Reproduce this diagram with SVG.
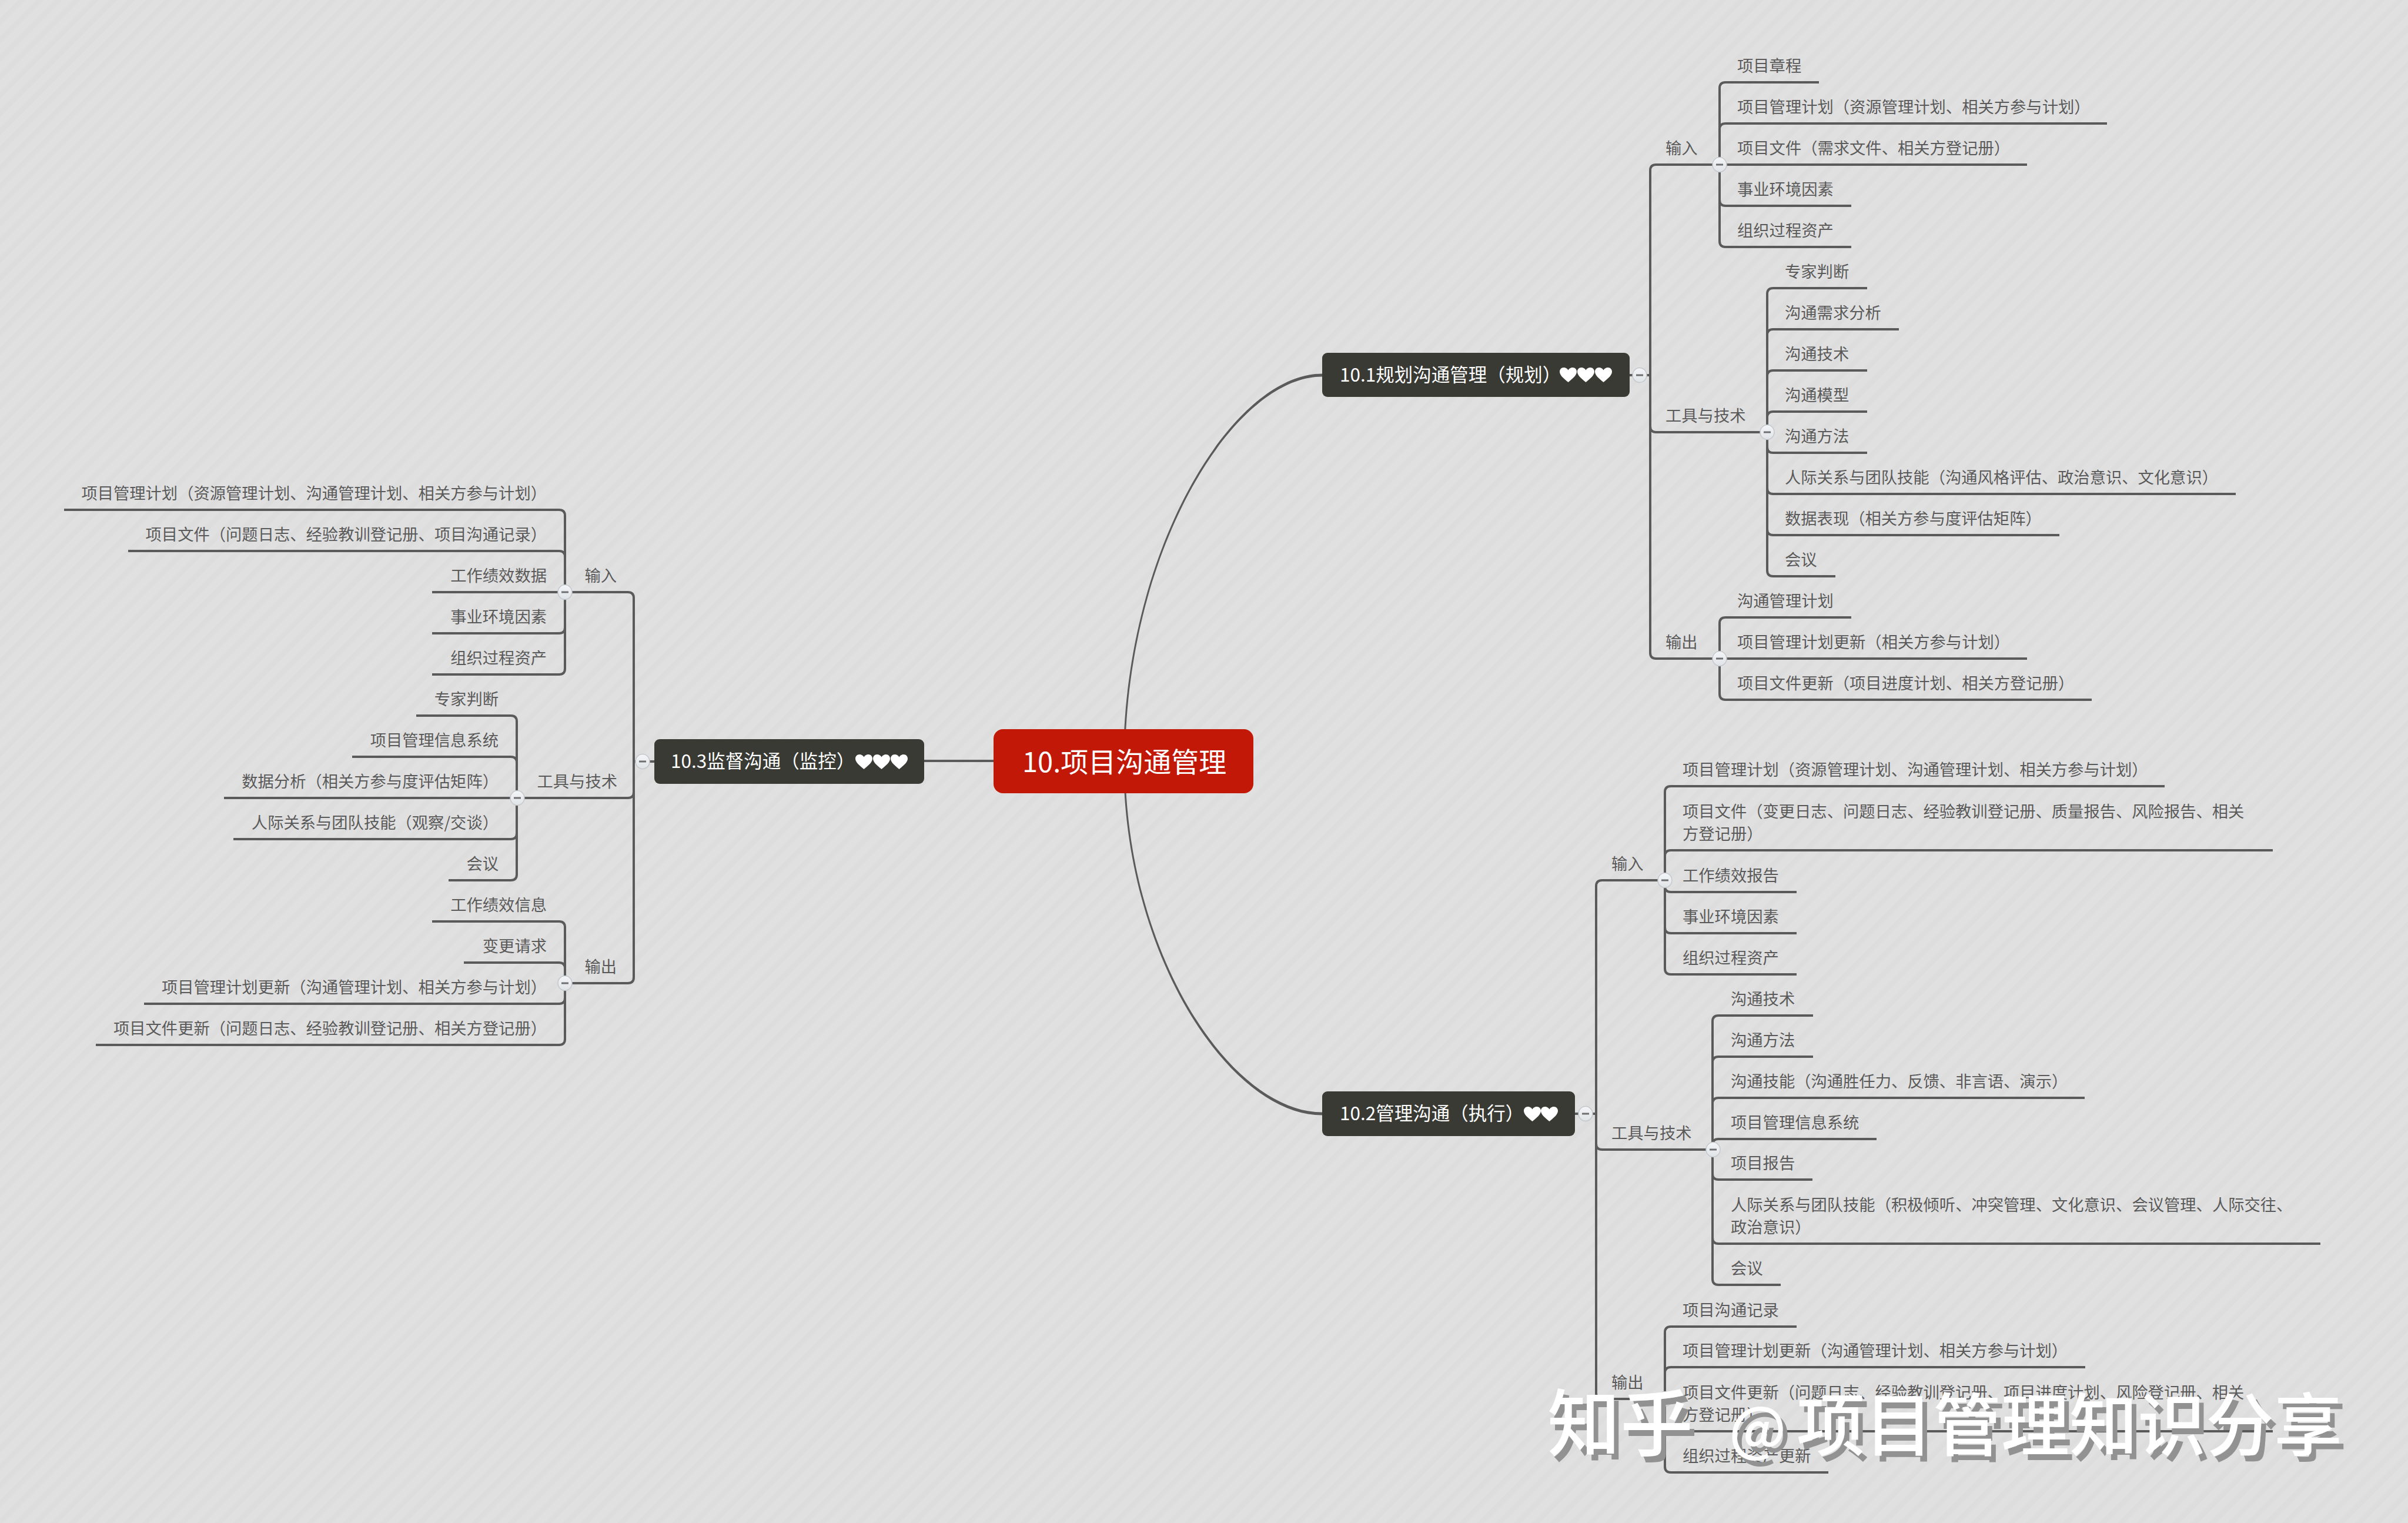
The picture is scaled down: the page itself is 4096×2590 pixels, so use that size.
<svg xmlns="http://www.w3.org/2000/svg" width="4096" height="2590" viewBox="0 0 4096 2590">
<style>
text{font-family:"Noto Sans CJK SC","Liberation Sans",sans-serif}
.t{font-size:27.300px;fill:#5a5a5a;font-weight:400}
.e{text-anchor:end}
.h{font-size:31.500px;fill:#fff}
.c{font-size:47px;fill:#fff}
.box{fill:#3a3a34}
.l{fill:none;stroke:#5a5a5a;stroke-width:4}
.wm{font-size:116px;fill:#fff;font-weight:500;filter:url(#sh)}
</style>
<defs>
<pattern id="bg" width="22" height="22" patternUnits="userSpaceOnUse" patternTransform="rotate(-45)">
<rect width="22" height="22" fill="#e0e0e0"/><rect width="22" height="9" fill="#dddddd"/>
</pattern>
<filter id="sh" x="-5%" y="-5%" width="110%" height="120%"><feDropShadow dx="8" dy="10" stdDeviation="0" flood-color="#929292"/></filter>
<linearGradient id="cg" x1="0" y1="0" x2="0" y2="1"><stop offset="0" stop-color="#f4f6f8"/><stop offset="1" stop-color="#dfe3e7"/></linearGradient>
<path id="heart" d="M14.5 25C6 18 0 13 0 7C0 2.800 3.200 0 7 0C10 0 13 1.500 14.500 4.500C16 1.500 19 0 22 0C25.800 0 29 2.800 29 7C29 13 23 18 14.500 25Z" fill="#fff"/>
<g id="col"><ellipse cx="0" cy="0" rx="12" ry="12.500" fill="url(#cg)" stroke="#c4c8cc" stroke-width="1.500"/><rect x="-6" y="-1.500" width="12" height="3" fill="#6f6f6f"/></g>
</defs>
<rect width="4096" height="2590" fill="url(#bg)"/>

<g id="connectors">
<path d="M1911 1295C1911 940 2095 635.500 2249 635.500L2249 640.500C2097 640.500 1914 940 1914 1295Z" fill="#5a5a5a"/>
<path d="M1911 1295C1911 1620 2090 1896.500 2249 1896.500L2249 1891.500C2093 1891.500 1914 1620 1914 1295Z" fill="#5a5a5a"/>
<path class="l" d="M1572 1294H1690"/>
<!-- 10.1 -->
<path class="l" d="M2772 638H2807"/>
<path class="l" d="M2925 280H2817Q2807 280 2807 290V1110Q2807 1120 2817 1120H2925"/>
<path class="l" d="M2807 725Q2807 735 2817 735H3006"/>
<path class="l" d="M3094 140H2935Q2925 140 2925 150V410Q2925 420 2935 420H3149"/>
<path class="l" d="M3584 210H2935Q2925 210 2925 220"/>
<path class="l" d="M2925 280H3448"/>
<path class="l" d="M2925 340Q2925 350 2935 350H3149"/>
<path class="l" d="M3176 490H3016Q3006 490 3006 500V970Q3006 980 3016 980H3122"/>
<path class="l" d="M3230 560H3016Q3006 560 3006 570"/>
<path class="l" d="M3176 630H3016Q3006 630 3006 640"/>
<path class="l" d="M3176 700H3016Q3006 700 3006 710"/>
<path class="l" d="M3006 760Q3006 770 3016 770H3176"/>
<path class="l" d="M3006 830Q3006 840 3016 840H3803"/>
<path class="l" d="M3006 900Q3006 910 3016 910H3503"/>
<path class="l" d="M3149 1050H2935Q2925 1050 2925 1060V1180Q2925 1190 2935 1190H3558"/>
<path class="l" d="M2925 1120H3448"/>
<!-- 10.2 -->
<path class="l" d="M2679 1894H2715"/>
<path class="l" d="M2832 1497H2725Q2715 1497 2715 1507V2369Q2715 2379 2725 2379H2832"/>
<path class="l" d="M2715 1945Q2715 1955 2725 1955H2913"/>
<path class="l" d="M3682 1337H2842Q2832 1337 2832 1347V1647Q2832 1657 2842 1657H3056"/>
<path class="l" d="M3866 1446H2842Q2832 1446 2832 1456"/>
<path class="l" d="M2832 1507Q2832 1517 2842 1517H3056"/>
<path class="l" d="M2832 1577Q2832 1587 2842 1587H3056"/>
<path class="l" d="M3084 1727H2923Q2913 1727 2913 1737V2175Q2913 2185 2923 2185H3029"/>
<path class="l" d="M3084 1797H2923Q2913 1797 2913 1807"/>
<path class="l" d="M3546 1867H2923Q2913 1867 2913 1877"/>
<path class="l" d="M3192 1937H2923Q2913 1937 2913 1947"/>
<path class="l" d="M2913 1996Q2913 2006 2923 2006H3083"/>
<path class="l" d="M2913 2105Q2913 2115 2923 2115H3947"/>
<path class="l" d="M3056 2256H2842Q2832 2256 2832 2266V2494Q2832 2504 2842 2504H3110"/>
<path class="l" d="M3547 2325H2842Q2832 2325 2832 2335"/>
<path class="l" d="M2832 2424Q2832 2434 2842 2434H3866"/>
<!-- 10.3 -->
<path class="l" d="M1113 1295H1078"/>
<path class="l" d="M961 1007H1068Q1078 1007 1078 1017V1662Q1078 1672 1068 1672H961"/>
<path class="l" d="M1078 1347Q1078 1357 1068 1357H879"/>
<path class="l" d="M109 867H951Q961 867 961 877V1137Q961 1147 951 1147H735"/>
<path class="l" d="M218 937H951Q961 937 961 947"/>
<path class="l" d="M735 1007H961"/>
<path class="l" d="M961 1067Q961 1077 951 1077H735"/>
<path class="l" d="M708 1217H869Q879 1217 879 1227V1487Q879 1497 869 1497H763"/>
<path class="l" d="M599 1287H869Q879 1287 879 1297"/>
<path class="l" d="M381 1357H879"/>
<path class="l" d="M879 1417Q879 1427 869 1427H397"/>
<path class="l" d="M735 1567H951Q961 1567 961 1577V1767Q961 1777 951 1777H163"/>
<path class="l" d="M789 1637H951Q961 1637 961 1647"/>
<path class="l" d="M961 1697Q961 1707 951 1707H245"/>
</g>

<g id="central"><rect x="1690" y="1240" width="442" height="109" rx="16" fill="#c21807"/><text class="c" x="1739" y="1313">10.项目沟通管理</text></g>

<g id="n101"><rect class="box" x="2249" y="600" width="523" height="75" rx="9"/><text class="h" x="2279" y="649">10.1规划沟通管理（规划）</text><use href="#heart" x="2653" y="625"/><use href="#heart" x="2683" y="625"/><use href="#heart" x="2713" y="625"/><use href="#col" x="2789" y="638"/></g>
<g id="n102"><rect class="box" x="2249" y="1856" width="430" height="76" rx="9"/><text class="h" x="2279" y="1905">10.2管理沟通（执行）</text><use href="#heart" x="2592" y="1882"/><use href="#heart" x="2621" y="1882"/><use href="#col" x="2697" y="1894"/></g>
<g id="n103"><rect class="box" x="1113" y="1257" width="459" height="76" rx="9"/><text class="h" x="1141" y="1306">10.3监督沟通（监控）</text><use href="#heart" x="1455" y="1283"/><use href="#heart" x="1485" y="1283"/><use href="#heart" x="1515" y="1283"/><use href="#col" x="1093" y="1295"/></g>

<g id="n101-in"><text class="t" x="2833" y="262">输入</text><use href="#col" x="2925" y="280"/></g>
<g id="n101-in-1"><text class="t" x="2955" y="122">项目章程</text></g>
<g id="n101-in-2"><text class="t" x="2955" y="192">项目管理计划（资源管理计划、相关方参与计划）</text></g>
<g id="n101-in-3"><text class="t" x="2955" y="262">项目文件（需求文件、相关方登记册）</text></g>
<g id="n101-in-4"><text class="t" x="2955" y="332">事业环境因素</text></g>
<g id="n101-in-5"><text class="t" x="2955" y="402">组织过程资产</text></g>
<g id="n101-tt"><text class="t" x="2833" y="717">工具与技术</text><use href="#col" x="3006" y="735"/></g>
<g id="n101-tt-1"><text class="t" x="3036" y="472">专家判断</text></g>
<g id="n101-tt-2"><text class="t" x="3036" y="542">沟通需求分析</text></g>
<g id="n101-tt-3"><text class="t" x="3036" y="612">沟通技术</text></g>
<g id="n101-tt-4"><text class="t" x="3036" y="682">沟通模型</text></g>
<g id="n101-tt-5"><text class="t" x="3036" y="752">沟通方法</text></g>
<g id="n101-tt-6"><text class="t" x="3036" y="822">人际关系与团队技能（沟通风格评估、政治意识、文化意识）</text></g>
<g id="n101-tt-7"><text class="t" x="3036" y="892">数据表现（相关方参与度评估矩阵）</text></g>
<g id="n101-tt-8"><text class="t" x="3036" y="962">会议</text></g>
<g id="n101-out"><text class="t" x="2833" y="1102">输出</text><use href="#col" x="2925" y="1120"/></g>
<g id="n101-out-1"><text class="t" x="2955" y="1032">沟通管理计划</text></g>
<g id="n101-out-2"><text class="t" x="2955" y="1102">项目管理计划更新（相关方参与计划）</text></g>
<g id="n101-out-3"><text class="t" x="2955" y="1172">项目文件更新（项目进度计划、相关方登记册）</text></g>

<g id="n102-in"><text class="t" x="2741" y="1479">输入</text><use href="#col" x="2832" y="1497"/></g>
<g id="n102-in-1"><text class="t" x="2862" y="1319">项目管理计划（资源管理计划、沟通管理计划、相关方参与计划）</text></g>
<g id="n102-in-2"><text class="t" x="2862" y="1390">项目文件（变更日志、问题日志、经验教训登记册、质量报告、风险报告、相关</text><text class="t" x="2862" y="1428">方登记册）</text></g>
<g id="n102-in-3"><text class="t" x="2862" y="1499">工作绩效报告</text></g>
<g id="n102-in-4"><text class="t" x="2862" y="1569">事业环境因素</text></g>
<g id="n102-in-5"><text class="t" x="2862" y="1639">组织过程资产</text></g>
<g id="n102-tt"><text class="t" x="2741" y="1937">工具与技术</text><use href="#col" x="2914" y="1955"/></g>
<g id="n102-tt-1"><text class="t" x="2944" y="1709">沟通技术</text></g>
<g id="n102-tt-2"><text class="t" x="2944" y="1779">沟通方法</text></g>
<g id="n102-tt-3"><text class="t" x="2944" y="1849">沟通技能（沟通胜任力、反馈、非言语、演示）</text></g>
<g id="n102-tt-4"><text class="t" x="2944" y="1919">项目管理信息系统</text></g>
<g id="n102-tt-5"><text class="t" x="2944" y="1988">项目报告</text></g>
<g id="n102-tt-6"><text class="t" x="2944" y="2059">人际关系与团队技能（积极倾听、冲突管理、文化意识、会议管理、人际交往、</text><text class="t" x="2944" y="2097">政治意识）</text></g>
<g id="n102-tt-7"><text class="t" x="2944" y="2167">会议</text></g>
<g id="n102-out"><text class="t" x="2741" y="2361">输出</text><use href="#col" x="2832" y="2379"/></g>
<g id="n102-out-1"><text class="t" x="2862" y="2238">项目沟通记录</text></g>
<g id="n102-out-2"><text class="t" x="2862" y="2307">项目管理计划更新（沟通管理计划、相关方参与计划）</text></g>
<g id="n102-out-3"><text class="t" x="2862" y="2378">项目文件更新（问题日志、经验教训登记册、项目进度计划、风险登记册、相关</text><text class="t" x="2862" y="2416">方登记册）</text></g>
<g id="n102-out-4"><text class="t" x="2862" y="2486">组织过程资产更新</text></g>

<g id="n103-in"><text class="t e" x="1049" y="989">输入</text><use href="#col" x="961" y="1007"/></g>
<g id="n103-in-1"><text class="t e" x="930" y="849">项目管理计划（资源管理计划、沟通管理计划、相关方参与计划）</text></g>
<g id="n103-in-2"><text class="t e" x="930" y="919">项目文件（问题日志、经验教训登记册、项目沟通记录）</text></g>
<g id="n103-in-3"><text class="t e" x="930" y="989">工作绩效数据</text></g>
<g id="n103-in-4"><text class="t e" x="930" y="1059">事业环境因素</text></g>
<g id="n103-in-5"><text class="t e" x="930" y="1129">组织过程资产</text></g>
<g id="n103-tt"><text class="t e" x="1050" y="1339">工具与技术</text><use href="#col" x="880" y="1357"/></g>
<g id="n103-tt-1"><text class="t e" x="848" y="1199">专家判断</text></g>
<g id="n103-tt-2"><text class="t e" x="848" y="1269">项目管理信息系统</text></g>
<g id="n103-tt-3"><text class="t e" x="848" y="1339">数据分析（相关方参与度评估矩阵）</text></g>
<g id="n103-tt-4"><text class="t e" x="848" y="1409">人际关系与团队技能（观察/交谈）</text></g>
<g id="n103-tt-5"><text class="t e" x="848" y="1479">会议</text></g>
<g id="n103-out"><text class="t e" x="1049" y="1654">输出</text><use href="#col" x="961" y="1672"/></g>
<g id="n103-out-1"><text class="t e" x="930" y="1549">工作绩效信息</text></g>
<g id="n103-out-2"><text class="t e" x="930" y="1619">变更请求</text></g>
<g id="n103-out-3"><text class="t e" x="930" y="1689">项目管理计划更新（沟通管理计划、相关方参与计划）</text></g>
<g id="n103-out-4"><text class="t e" x="930" y="1759">项目文件更新（问题日志、经验教训登记册、相关方登记册）</text></g>

<g id="watermark"><text class="wm" x="2632" y="2466"><tspan font-size="124">知乎</tspan><tspan x="2941" font-size="100">@</tspan><tspan x="3056">项目管理知识分享</tspan></text></g>
</svg>
